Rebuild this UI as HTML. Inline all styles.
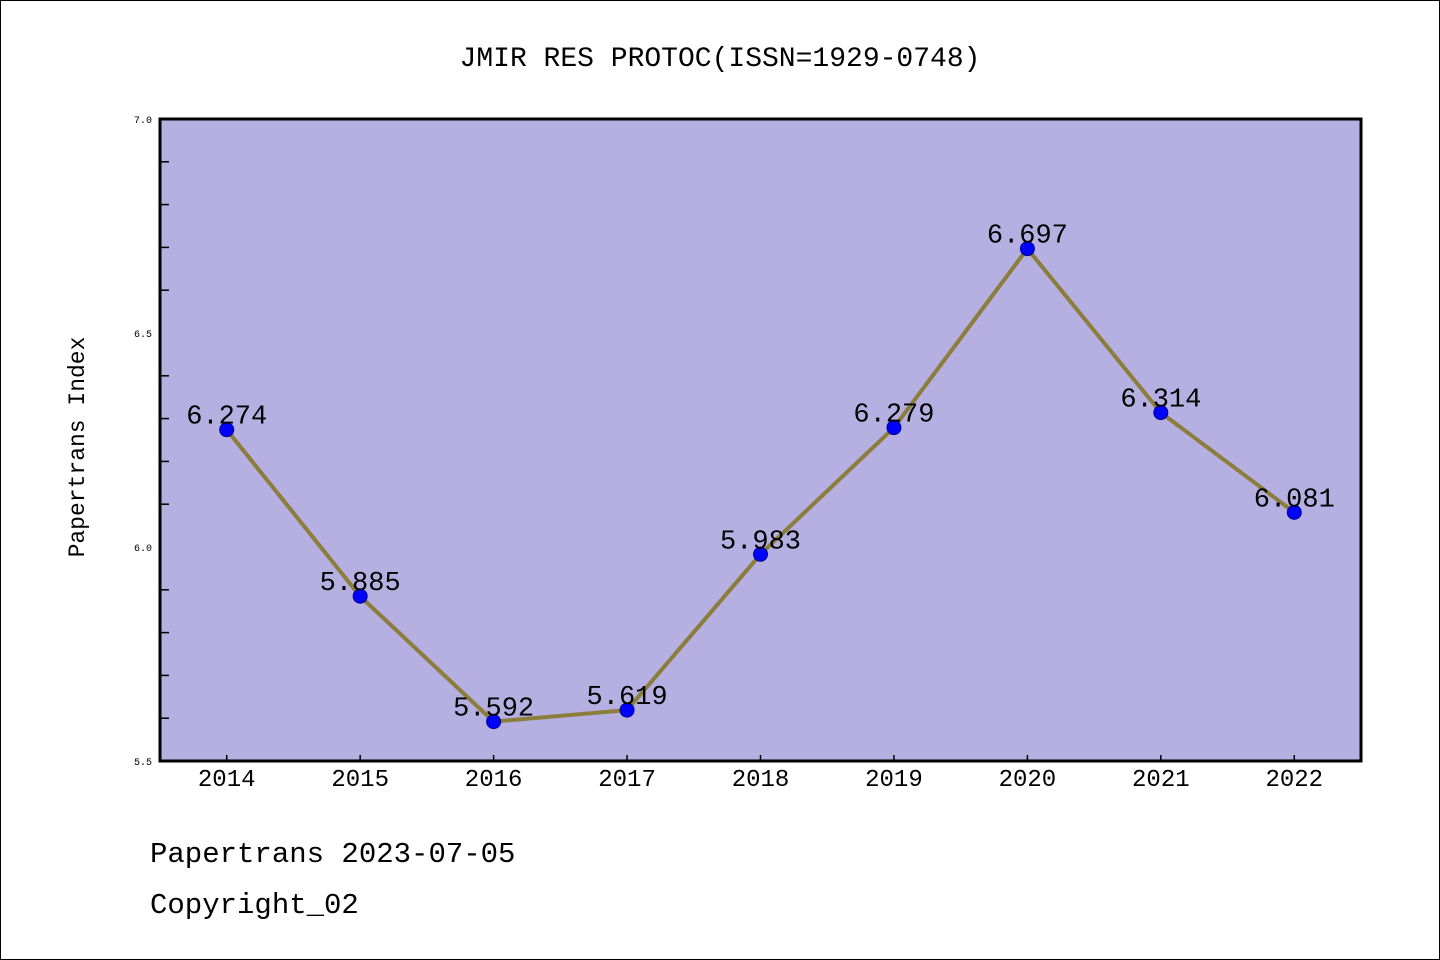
<!DOCTYPE html>
<html><head><meta charset="utf-8"><style>
html,body{margin:0;padding:0;background:#fff}
svg{display:block}
text{font-family:"Liberation Mono","DejaVu Sans Mono",monospace}
</style></head><body>
<svg id="chart" width="1440" height="960" xmlns="http://www.w3.org/2000/svg">
<rect x="0.5" y="0.5" width="1439" height="959" fill="#fff" stroke="#000" stroke-width="1"/>
<text x="720" y="66" text-anchor="middle" font-size="28">JMIR RES PROTOC(ISSN=1929-0748)</text>
<rect x="160" y="119" width="1201" height="642" fill="#b5afe2"/>
<g id="grid"></g>
<g id="series"></g>
<rect x="160" y="119" width="1201" height="642" fill="none" stroke="#000" stroke-width="3"/>
<text transform="translate(84,447) rotate(-90)" text-anchor="middle" font-size="23">Papertrans Index</text>
<text x="150" y="862" font-size="29">Papertrans 2023-07-05</text>
<text x="150" y="913" font-size="29">Copyright_02</text>
</svg>
<script>
const categories = ["2014","2015","2016","2017","2018","2019","2020","2021","2022"];
const values = [6.274,5.885,5.592,5.619,5.983,6.279,6.697,6.314,6.081];
const valueLabels = ["6.274","5.885","5.592","5.619","5.983","6.279","6.697","6.314","6.081"];
const yTicks = ["5.5","6.0","6.5","7.0"];
const NS="http://www.w3.org/2000/svg";
const L=160,R=1361,T=119,B=761,YMIN=5.5,YMAX=7.0;
const xs=i=>L+(i+0.5)*(R-L)/categories.length;
const ys=v=>B-(v-YMIN)/(YMAX-YMIN)*(B-T);
function mk(tag,attrs,parent){const e=document.createElementNS(NS,tag);for(const k in attrs)e.setAttribute(k,attrs[k]);parent.appendChild(e);return e;}
const grid=document.getElementById('grid'),ser=document.getElementById('series');
for(let k=0;k<=15;k++){const v=YMIN+k*0.1;
  if(k%5!==0){const t=mk('line',{x1:L,x2:L+9,y1:ys(v),y2:ys(v),stroke:'#000','stroke-width':1.5},grid);
  
  }}
yTicks.forEach(s=>{const t=mk('text',{x:L-8,y:ys(+s)+4,'text-anchor':'end','font-size':10},grid);t.textContent=s;
  
  });
categories.forEach((c,i)=>{const tk=mk('line',{x1:xs(i),x2:xs(i),y1:B,y2:B-6,stroke:'#000','stroke-width':1.5},grid);
  
  
  const t=mk('text',{x:xs(i),y:B+25,'text-anchor':'middle','font-size':24},grid);t.textContent=c;
  
  });
const pl=mk('polyline',{points:values.map((v,i)=>xs(i)+','+ys(v)).join(' '),fill:'none',stroke:'#8b7d3a','stroke-width':4},ser);


values.forEach((v,i)=>{const c=mk('circle',{cx:xs(i),cy:ys(v),r:7,fill:'#0000ff',stroke:'#00008b','stroke-width':1},ser);
  
  
  const t=mk('text',{x:xs(i),y:ys(v)-6,'text-anchor':'middle','font-size':27},ser);t.textContent=valueLabels[i];
  
  });
</script>
</body></html>
